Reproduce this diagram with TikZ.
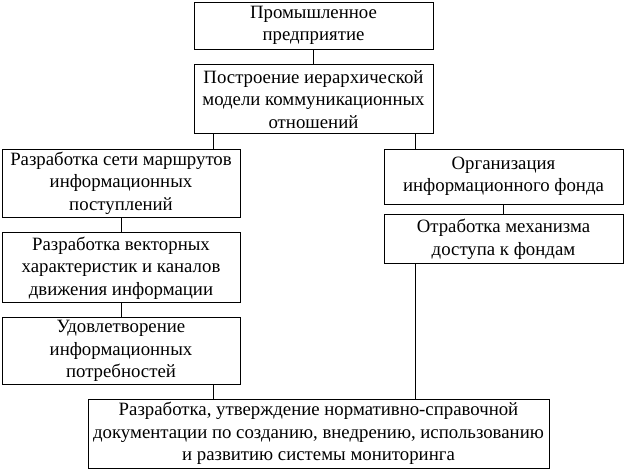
\documentclass[tikz,border=0pt]{standalone}
\usepackage{fontspec}
\setmainfont{Liberation Serif}
\usetikzlibrary{positioning}

\begin{document}
\begin{tikzpicture}[
  x=1pt, y=-1pt,
  node distance=15pt and 10pt,
  box/.style={draw, line width=0.8pt, align=center, inner sep=1pt, font=\fontsize{18.8}{22.5}\selectfont},
  sidebox/.style={box, minimum width=238pt},
  link/.style={line width=0.8pt}
]
\useasboundingbox (0,0) rectangle (625,470);

\node[box, minimum width=239pt, minimum height=47pt] (firm) at (313.5,25.5) {Промышленное\\предприятие};
\node[box, minimum width=239pt, minimum height=69pt, below=15pt of firm] (model) {Построение иерархической\\модели коммуникационных\\отношений};

\node[sidebox, minimum height=68pt] (left1) at (121,183) {Разработка сети маршрутов\\информационных\\поступлений};
\node[sidebox, minimum height=70pt, below=15pt of left1] (left2) {Разработка векторных\\характеристик и каналов\\движения информации};
\node[sidebox, minimum height=67pt, below=14pt of left2] (left3) {Удовлетворение\\информационных\\потребностей};

\node[box, minimum width=239pt, minimum height=55pt] (right1) at (503.5,176.5) {Организация\\информационного фонда};
\node[box, minimum width=239pt, minimum height=49pt, below=10pt of right1] (right2) {Отработка механизма\\доступа к фондам};

\node[box, minimum width=461pt, minimum height=69pt] (docs) at (318.5,433.5) {Разработка, утверждение нормативно-справочной\\документации по созданию, внедрению, использованию\\и развитию системы мониторинга};

\coordinate (ltap) at (213,0);
\coordinate (rtap) at (415,0);

\draw[link] (firm) -- (model);
\draw[link] (model.south -| ltap) -- (left1.north -| ltap);
\draw[link] (model.south -| rtap) -- (right1.north -| rtap);
\draw[link] (left1) -- (left2);
\draw[link] (left2) -- (left3);
\draw[link] (right1) -- (right2);
\draw[link] (left3.south -| ltap) -- (docs.north -| ltap);
\draw[link] (right2.south -| rtap) -- (docs.north -| rtap);
\end{tikzpicture}
\end{document}
